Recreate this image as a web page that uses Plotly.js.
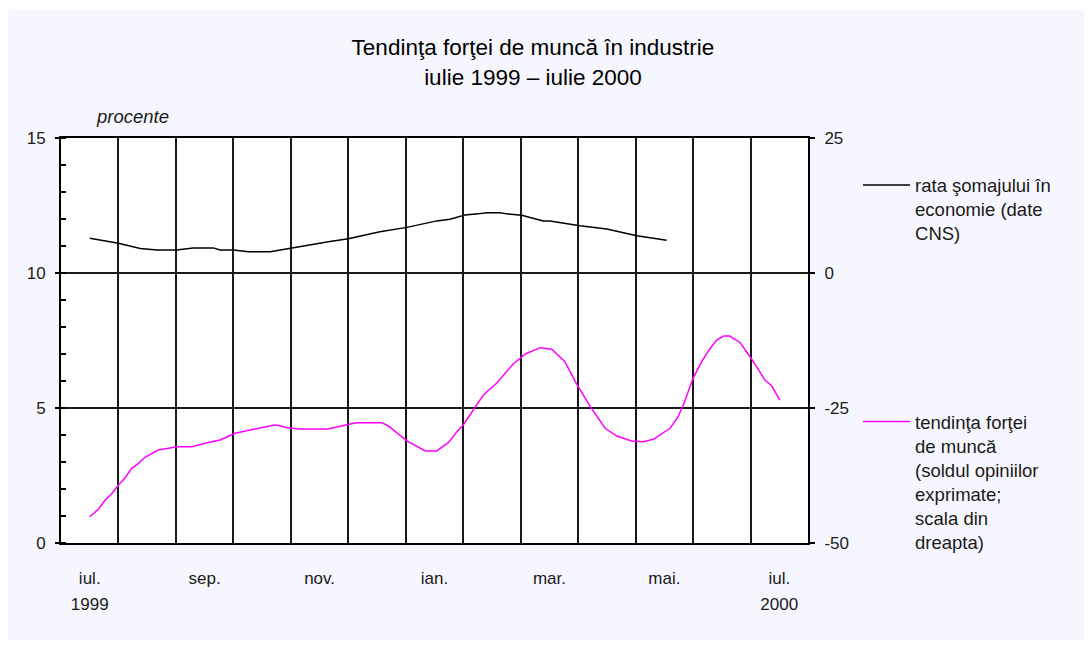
<!DOCTYPE html>
<html>
<head>
<meta charset="utf-8">
<script src="https://cdn.plot.ly/plotly-3.0.1.min.js"></script>
<style>
  html, body { margin: 0; padding: 0; background: #ffffff; }
  #chart { position: absolute; left: 8px; top: 10px; width: 1076px; height: 630px; }
</style>
</head>
<body>
<div id="chart"></div>
<script>
// x = months since start of July 1999
var somajX = [0.5, 0.71, 1.0, 1.38, 1.67, 2.01, 2.3, 2.65, 2.77, 3.0, 3.26, 3.64, 3.93, 4.22, 4.51, 4.68, 5.0, 5.55, 6.02, 6.54, 6.77, 7.03, 7.26, 7.41, 7.64, 7.76, 8.02, 8.39, 8.51, 9.03, 9.5, 10.02, 10.54];
var somajY = [11.29, 11.22, 11.10, 10.91, 10.85, 10.85, 10.93, 10.93, 10.85, 10.85, 10.79, 10.79, 10.90, 11.01, 11.10, 11.17, 11.27, 11.53, 11.69, 11.93, 11.99, 12.15, 12.19, 12.23, 12.23, 12.19, 12.14, 11.93, 11.93, 11.75, 11.63, 11.38, 11.21];

var fortaX = [0.5, 0.65, 0.77, 0.88, 1.0, 1.11, 1.23, 1.35, 1.46, 1.69, 1.87, 2.01, 2.28, 2.54, 2.77, 3.03, 3.23, 3.46, 3.7, 3.78, 3.93, 4.16, 4.65, 5.03, 5.15, 5.58, 5.7, 5.84, 6.04, 6.34, 6.54, 6.74, 6.89, 7.0, 7.18, 7.35, 7.58, 7.87, 8.08, 8.34, 8.54, 8.77, 8.95, 9.21, 9.47, 9.67, 9.93, 10.13, 10.31, 10.6, 10.74, 10.83, 11.0, 11.15, 11.27, 11.41, 11.53, 11.64, 11.82, 12.05, 12.25, 12.37, 12.51];
var fortaY = [-45.13, -43.76, -42.04, -40.93, -39.26, -38.02, -36.17, -35.24, -34.13, -32.78, -32.46, -32.17, -32.17, -31.43, -30.93, -29.69, -29.20, -28.65, -28.20, -28.20, -28.65, -28.89, -28.89, -27.96, -27.72, -27.72, -28.33, -29.57, -31.24, -32.96, -32.96, -31.43, -29.39, -28.15, -25.37, -22.59, -20.43, -16.85, -15.00, -13.83, -14.13, -16.43, -20.13, -24.76, -28.76, -30.19, -31.11, -31.24, -30.80, -28.76, -26.61, -24.44, -19.50, -16.43, -14.39, -12.41, -11.67, -11.67, -12.91, -16.43, -19.81, -20.93, -23.52];

var monthTickVals = [0.5, 2.5, 4.5, 6.5, 8.5, 10.5, 12.5];
var monthTickText = ["iul.", "sep.", "nov.", "ian.", "mar.", "mai.", "iul."];
var yearTickVals = [0.5, 12.5];
var yearTickText = ["1999", "2000"];
var leftTickVals = [0, 5, 10, 15];
var leftTickText = ["0", "5", "10", "15"];
var rightTickVals = [-50, -25, 0, 25];
var rightTickText = ["-50", "-25", "0", "25"];

var titleLine1 = "Tendinţa forţei de muncă în industrie";
var titleLine2 = "iulie 1999 – iulie 2000";
var nameSomaj = "rata şomajului în<br>economie (date<br>CNS)";
var nameForta = "tendinţa forţei<br>de muncă<br>(soldul opiniilor<br>exprimate;<br>scala din<br>dreapta)";

var FONT = "Liberation Sans, Arial, sans-serif";

var traces = [
  { x: somajX, y: somajY, xaxis: "x", yaxis: "y", type: "scatter", mode: "lines",
    name: nameSomaj, line: { color: "#000000", width: 1.5 }, legend: "legend", hoverinfo: "skip" },
  { x: fortaX, y: fortaY, xaxis: "x2", yaxis: "y2", type: "scatter", mode: "lines",
    name: nameForta, line: { color: "#ff00ff", width: 1.5 }, legend: "legend2", hoverinfo: "skip" }
];

var layout = {
  width: 1076, height: 630,
  margin: { l: 53, r: 276, t: 128, b: 97 },
  paper_bgcolor: "#f6f7fe",
  plot_bgcolor: "#ffffff",
  font: { family: FONT, size: 17, color: "#1a1a1a" },
  title: {
    text: titleLine1 + "<br>" + titleLine2,
    font: { family: FONT, size: 22.5, color: "#000000" },
    xref: "container", x: 0.4879, xanchor: "center",
    yref: "container", y: 0.928, yanchor: "top"
  },
  xaxis: {
    range: [0, 13], fixedrange: true,
    tickmode: "array", tickvals: monthTickVals, ticktext: monthTickText,
    ticks: "", showgrid: false, zeroline: false,
    showline: true, linecolor: "#000000", linewidth: 2, mirror: true,
    ticklabelstandoff: 19,
    minor: { tick0: 0, dtick: 1, showgrid: true, gridcolor: "#1a1a1a", gridwidth: 2, ticks: "" }
  },
  xaxis2: {
    range: [0, 13], overlaying: "x", side: "bottom", fixedrange: true,
    tickmode: "array", tickvals: yearTickVals, ticktext: yearTickText,
    ticks: "", showgrid: false, zeroline: false, showline: false,
    ticklabelstandoff: 49
  },
  yaxis: {
    range: [0, 15], fixedrange: true,
    tickmode: "array", tickvals: leftTickVals, ticktext: leftTickText,
    ticks: "outside", ticklen: 4, tickwidth: 1.5, tickcolor: "#000000",
    showgrid: true, gridcolor: "#1a1a1a", gridwidth: 2, zeroline: false,
    showline: true, linecolor: "#000000", linewidth: 2,
    ticklabelstandoff: 6,
    minor: { tick0: 0, dtick: 1, ticks: "inside", ticklen: 5, tickwidth: 1.5, tickcolor: "#000000", showgrid: false }
  },
  yaxis2: {
    range: [-50, 25], overlaying: "y", side: "right", anchor: "x2", fixedrange: true,
    tickmode: "array", tickvals: rightTickVals, ticktext: rightTickText,
    ticks: "outside", ticklen: 5, tickwidth: 1.5, tickcolor: "#000000",
    showgrid: false, zeroline: false,
    showline: true, linecolor: "#000000", linewidth: 2,
    ticklabelstandoff: 6
  },
  legend: {
    x: 1.067, xanchor: "left", y: 0.93, yanchor: "top",
    bgcolor: "rgba(0,0,0,0)", borderwidth: 0, valign: "top",
    itemwidth: 47, font: { family: FONT, size: 18.5, color: "#1a1a1a" },
    itemclick: false, itemdoubleclick: false
  },
  legend2: {
    x: 1.067, xanchor: "left", y: 0.346, yanchor: "top",
    bgcolor: "rgba(0,0,0,0)", borderwidth: 0, valign: "top",
    itemwidth: 47, font: { family: FONT, size: 18.5, color: "#1a1a1a" },
    itemclick: false, itemdoubleclick: false
  },
  annotations: [
    { text: "procente", xref: "paper", yref: "paper", x: 0.044, y: 1.052,
      xanchor: "left", yanchor: "middle", showarrow: false,
      font: { family: FONT, size: 18.5, color: "#1a1a1a", style: "italic" } }
  ],
  showlegend: true
};

Plotly.newPlot("chart", traces, layout, { displayModeBar: false, staticPlot: true });
</script>
</body>
</html>
